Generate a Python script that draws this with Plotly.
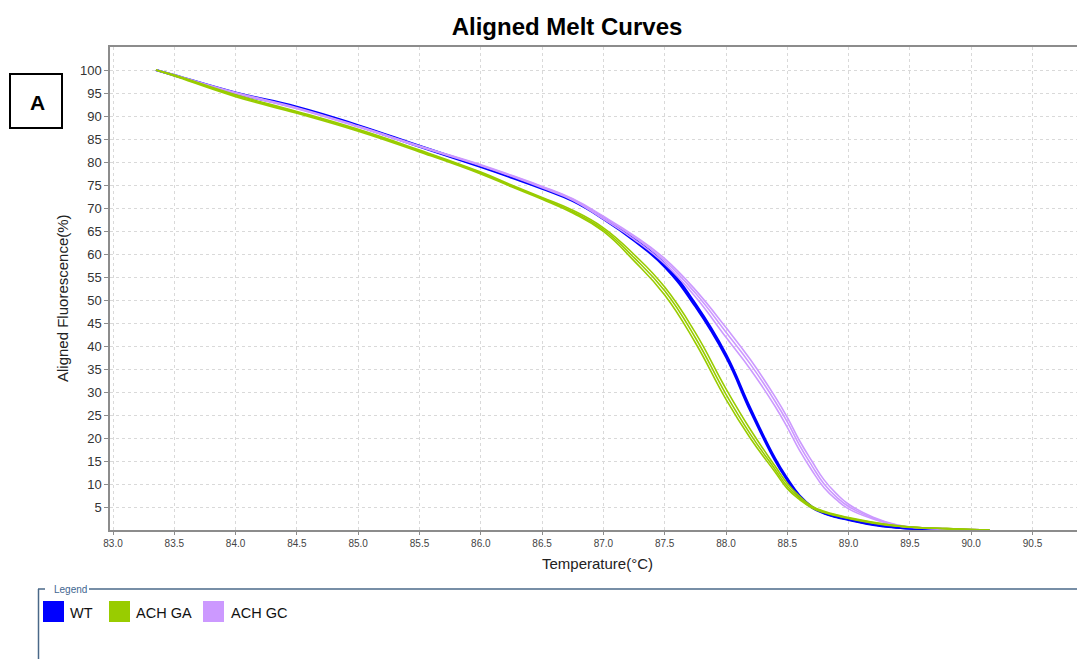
import plotly.graph_objects as go

# ---------------- data ----------------
temperature = [83.35, 83.5, 84.0, 84.5, 85.0, 85.5, 86.0, 86.25, 86.5, 86.75,
               87.0, 87.25, 87.5, 87.75, 88.0, 88.2, 88.4, 88.5, 88.6, 88.7,
               88.8, 88.9, 89.0, 89.2, 89.4, 89.6, 89.8, 90.0, 90.15]

wt_rep1 = [100, 98.9, 95.1, 92.0, 88.0, 83.5, 79.1, 76.8, 74.4, 71.7,
           67.9, 63.3, 57.8, 49.2, 38.2, 26.4, 15.6, 11.2, 7.5, 5.1,
           3.7, 2.9, 2.3, 1.2, 0.5, 0.2, 0.05, 0.0, 0.0]
wt_rep2 = [100, 98.8, 94.9, 91.8, 87.8, 83.3, 78.9, 76.6, 74.2, 71.5,
           67.6, 62.9, 57.2, 48.6, 37.6, 25.8, 15.1, 10.8, 7.2, 4.9,
           3.6, 2.8, 2.2, 1.1, 0.5, 0.2, 0.05, 0.0, 0.0]

ga_rep1 = [100, 98.9, 94.6, 91.0, 87.1, 82.6, 77.8, 75.0, 72.3, 69.5,
           65.7, 59.9, 52.8, 42.9, 30.7, 21.8, 13.9, 10.1, 7.3, 5.2,
           4.1, 3.3, 2.7, 1.7, 0.9, 0.5, 0.3, 0.1, 0.0]
ga_rep2 = [100, 98.8, 94.4, 90.8, 86.9, 82.4, 77.6, 74.8, 72.1, 69.2,
           65.3, 59.2, 52.0, 41.8, 29.5, 20.8, 13.2, 9.5, 6.9, 5.0,
           3.9, 3.2, 2.6, 1.6, 0.9, 0.5, 0.3, 0.1, 0.0]
ga_rep3 = [100, 98.7, 94.2, 90.6, 86.7, 82.2, 77.4, 74.6, 71.9, 68.9,
           64.9, 58.5, 51.1, 40.7, 28.4, 19.9, 12.6, 9.0, 6.6, 4.8,
           3.8, 3.1, 2.5, 1.5, 0.8, 0.5, 0.3, 0.1, 0.0]

gc_rep1 = [100, 98.9, 95.1, 91.8, 87.8, 83.5, 79.4, 77.1, 74.7, 72.0,
           68.2, 64.0, 59.0, 52.2, 44.0, 37.0, 29.0, 24.5, 19.4, 15.0,
           10.9, 7.9, 5.6, 2.8, 1.1, 0.5, 0.3, 0.1, 0.0]
gc_rep2 = [100, 98.9, 95.0, 91.7, 87.7, 83.4, 79.3, 77.0, 74.6, 71.9,
           67.9, 63.7, 58.5, 51.5, 43.0, 36.0, 28.0, 23.5, 18.4, 14.0,
           10.0, 7.2, 5.1, 2.6, 1.0, 0.45, 0.25, 0.1, 0.0]
gc_rep3 = [100, 98.8, 94.9, 91.6, 87.6, 83.3, 79.2, 76.9, 74.4, 71.7,
           67.6, 63.2, 57.9, 50.7, 41.9, 34.9, 26.9, 22.3, 17.3, 13.0,
           9.2, 6.6, 4.6, 2.4, 0.9, 0.4, 0.2, 0.1, 0.0]

group_names = ["WT", "ACH GA", "ACH GC"]
group_colors = ["#0000FF", "#99CC00", "#CC99FF"]

x_ticks = [83.0, 83.5, 84.0, 84.5, 85.0, 85.5, 86.0, 86.5, 87.0, 87.5,
           88.0, 88.5, 89.0, 89.5, 90.0, 90.5]
y_ticks = [5, 10, 15, 20, 25, 30, 35, 40, 45, 50, 55, 60, 65, 70, 75,
           80, 85, 90, 95, 100]

# ---------------- figure ----------------
W, H = 1077, 659
ML, MR, MT, MB = 110, 0, 47, 129
PW, PH = W - ML - MR, H - MT - MB


def px(x):
    return (x - ML) / PW


def py(y):
    return (H - MB - y) / PH


fig = go.Figure()

draw_order = [
    (0, [wt_rep1, wt_rep2], 2.2),
    (2, [gc_rep1, gc_rep2, gc_rep3], 1.6),
    (1, [ga_rep1, ga_rep2, ga_rep3], 1.6),
]
for gi, reps, lw in draw_order:
    for r in reps:
        fig.add_trace(go.Scatter(
            x=temperature, y=r, mode="lines",
            line=dict(color=group_colors[gi], width=lw, shape="spline", smoothing=1.3),
            name=group_names[gi], showlegend=False, hoverinfo="skip"))

grid_col = "#d9d9d9"
fig.update_xaxes(
    range=[82.9755, 90.863], tickvals=x_ticks,
    ticktext=["%.1f" % v for v in x_ticks],
    showgrid=True, gridcolor=grid_col, griddash="3px,3px", gridwidth=1,
    showline=True, linecolor="#8c8c8c", linewidth=1.5, mirror=True,
    ticks="outside", ticklen=3, tickcolor="#8c8c8c",
    tickfont=dict(family="Liberation Sans, Arial", size=10, color="#444444"),
    zeroline=False)
fig.update_yaxes(
    range=[0, 105], tickvals=y_ticks,
    showgrid=True, gridcolor=grid_col, griddash="3px,3px", gridwidth=1,
    showline=True, linecolor="#8c8c8c", linewidth=1.5,
    ticks="outside", ticklen=4, tickcolor="#8c8c8c",
    tickfont=dict(family="Liberation Sans, Arial", size=13, color="#333333"),
    zeroline=False)

shapes = []
annotations = []

# panel label box "A"
shapes.append(dict(type="rect", xref="paper", yref="paper",
                   x0=px(10), x1=px(62), y0=py(128), y1=py(74),
                   line=dict(color="black", width=2), fillcolor="white"))
annotations.append(dict(xref="paper", yref="paper", x=px(37), y=py(102),
                        text="<b>A</b>", showarrow=False,
                        font=dict(family="Liberation Sans, Arial", size=21, color="black"),
                        xanchor="center", yanchor="middle"))

# axis titles
annotations.append(dict(xref="paper", yref="paper", x=px(62), y=py(298),
                        text="Aligned Fluorescence(%)", textangle=-90, showarrow=False,
                        font=dict(family="Liberation Sans, Arial", size=15, color="#222222"),
                        xanchor="center", yanchor="middle"))
annotations.append(dict(xref="paper", yref="paper", x=px(597), y=py(563),
                        text="Temperature(°C)", showarrow=False,
                        font=dict(family="Liberation Sans, Arial", size=15, color="#222222"),
                        xanchor="center", yanchor="middle"))

# legend frame
frame_col = "#4a6888"
shapes.append(dict(type="line", xref="paper", yref="paper",
                   x0=px(38), x1=px(45), y0=py(589), y1=py(589),
                   line=dict(color=frame_col, width=1.5)))
shapes.append(dict(type="line", xref="paper", yref="paper",
                   x0=px(89), x1=px(1077), y0=py(589), y1=py(589),
                   line=dict(color=frame_col, width=1.5)))
shapes.append(dict(type="line", xref="paper", yref="paper",
                   x0=px(38.5), x1=px(38.5), y0=py(589), y1=py(660),
                   line=dict(color=frame_col, width=1.5)))
annotations.append(dict(xref="paper", yref="paper", x=px(52), y=py(589),
                        text="Legend", showarrow=False,
                        font=dict(family="Liberation Sans, Arial", size=10, color="#3f6690"),
                        xanchor="left", yanchor="middle"))

# legend entries
sq_x = [43, 109, 203]
txt_x = [68, 134, 229]
for i, name in enumerate(group_names):
    shapes.append(dict(type="rect", xref="paper", yref="paper",
                       x0=px(sq_x[i]), x1=px(sq_x[i] + 21),
                       y0=py(622), y1=py(601),
                       line=dict(width=0), fillcolor=group_colors[i]))
    annotations.append(dict(xref="paper", yref="paper", x=px(txt_x[i]), y=py(613),
                            text=name, showarrow=False,
                            font=dict(family="Liberation Sans, Arial", size=14.5, color="#111111"),
                            xanchor="left", yanchor="middle"))

fig.update_layout(
    width=W, height=H,
    margin=dict(l=ML, r=MR, t=MT, b=MB, pad=0),
    paper_bgcolor="white", plot_bgcolor="white",
    title=dict(text="<b>Aligned Melt Curves</b>", x=567 / W, y=1 - 27 / H,
               xanchor="center", yanchor="middle",
               font=dict(family="Liberation Sans, Arial", size=24, color="black")),
    shapes=shapes, annotations=annotations,
    showlegend=False,
)

fig.write_html("out.html")
